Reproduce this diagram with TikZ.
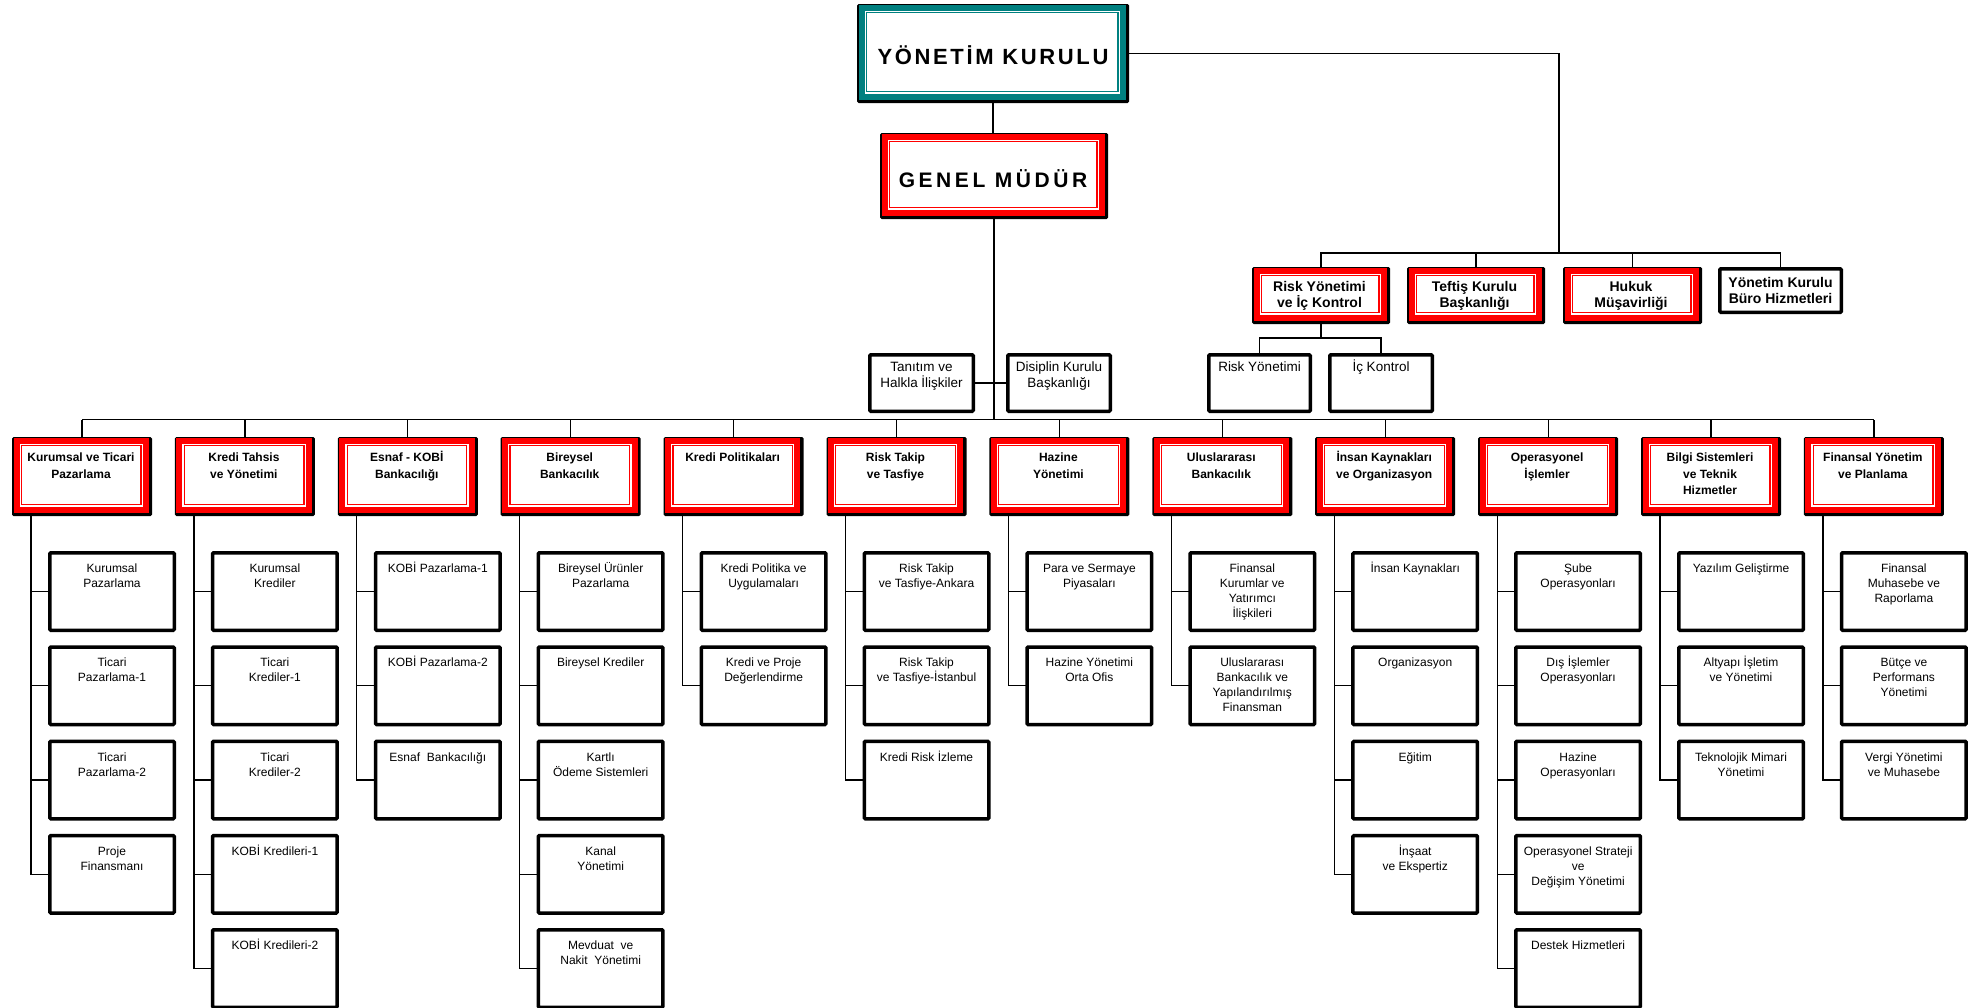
\documentclass[tikz,border=0pt]{standalone}
\usepackage{fontspec}
\setmainfont{Liberation Sans}
\newfontfamily\ykfont[LetterSpace=12]{Liberation Sans}
\newfontfamily\gmfont[LetterSpace=17]{Liberation Sans}
\usetikzlibrary{calc}
\definecolor{tealc}{RGB}{0,128,128}
\definecolor{redc}{RGB}{255,0,0}
\newcommand{\fl}{\rule{0pt}{14pt}}
\tikzset{
  geo/.style={inner sep=0pt, outer sep=0pt, draw=none},
  sbox/.style={draw=black, line width=3.5pt, fill=white, inner sep=0pt, outer sep=0pt, rounded corners=1pt},
  conn/.style={draw=black, line width=1.2pt},
  thickconn/.style={draw=black, line width=1.8pt},
  stext/.style={inner sep=0pt, align=center, font=\fontsize{12}{15}\selectfont, anchor=north},
  ttext/.style={inner sep=0pt, align=center, font=\fontsize{13.5}{16}\selectfont, anchor=north},
  dtext/.style={inner sep=0pt, align=center, font=\fontsize{12}{16.5}\selectfont\bfseries, anchor=north},
  rtext/.style={inner sep=0pt, align=center, font=\fontsize{14}{16}\selectfont\bfseries, anchor=north},
}
\newcommand{\FancyFrame}[2]{%
  \fill[black, rounded corners=1.5pt] (#1.north west) rectangle (#1.south east);
  \fill[#2] ($(#1.north west)+(1.5,1.2)$) rectangle ($(#1.south east)+(-3.2,-3.5)$);
  \fill[white] ($(#1.north west)+(7.5,7)$) rectangle ($(#1.south east)+(-9.2,-9.5)$);
  \draw[#2, line width=1.2pt] ($(#1.north west)+(9.3,8.8)$) rectangle ($(#1.south east)+(-11,-11.3)$);
}
\newcommand{\Dept}[3]{%
  \node[geo, minimum width=140pt, minimum height=79pt, anchor=north] (#1) at (#2,437) {};
  \FancyFrame{#1}{redc}
  \node[dtext] (#1-t) at (#2-1,447.5) {\fl #3};
}
\newcommand{\Sub}[4]{%
  \node[sbox, minimum width=124.5pt, minimum height=77.5pt, anchor=north west] (#1) at (#2-32.25,#3+1.75) {};
  \node[stext] (#1-t) at (#2+30,#3+7.5) {\fl #4};
}
\begin{document}
\begin{tikzpicture}[x=1pt,y=-1pt]
\useasboundingbox (0,0) rectangle (1975,1007);
\fill[white] (0,0) rectangle (1975,1007);

% ---- top ----
\node[geo, minimum width=272pt, minimum height=99pt, anchor=north west] (yk) at (857,4) {};
\FancyFrame{yk}{tealc}
\node[inner sep=0pt, anchor=base, font=\ykfont\bfseries\fontsize{22}{26}\selectfont] (yk-t) at (993,64) {YÖNETİM KURULU};

\node[geo, minimum width=228pt, minimum height=86pt, anchor=north west] (gm) at (880,133) {};
\FancyFrame{gm}{redc}
\node[inner sep=0pt, anchor=base, font=\gmfont\bfseries\fontsize{21}{25}\selectfont] (gm-t) at (993,187) {GENEL MÜDÜR};

\draw[line width=2.2pt] (yk.south) -- (yk.south |- gm.north);

% right side
\coordinate (rtop) at (1559,253);
\draw[thickconn] (yk.east) -| (rtop);

\node[geo, minimum width=138pt, minimum height=57pt, anchor=north west] (rk) at (1252,267) {};
\FancyFrame{rk}{redc}
\node[rtext] (rk-t) at (1319.5,277.5) {\fl Risk Yönetimi\\ve İç Kontrol};
\node[geo, minimum width=138pt, minimum height=57pt, anchor=north west] (tf) at (1407,267) {};
\FancyFrame{tf}{redc}
\node[rtext] (tf-t) at (1474.5,277.5) {\fl Teftiş Kurulu\\Başkanlığı};
\node[geo, minimum width=139pt, minimum height=57pt, anchor=north west] (hk) at (1563,267) {};
\FancyFrame{hk}{redc}
\node[rtext] (hk-t) at (1631,277.5) {\fl Hukuk\\Müşavirliği};
\node[sbox, minimum width=121.5pt, minimum height=43.5pt, anchor=north west] (bk) at (1719.75,268.75) {};
\node[rtext] (bk-t) at (1780.5,273.5) {\fl Yönetim Kurulu\\Büro Hizmetleri};

\draw[conn] (rk.north) |- (bk.north |- rtop) -- (bk.north);
\draw[conn] (tf.north) -- (tf.north |- rtop);
\draw[conn] (hk.north) -- (hk.north |- rtop);

% risk sub boxes
\node[sbox, minimum width=101.5pt, minimum height=56.5pt, anchor=north west] (rys) at (1208.75,354.75) {};
\node[ttext] (rys-t) at (1259.5,357.5) {\fl Risk Yönetimi};
\node[sbox, minimum width=102.5pt, minimum height=56.5pt, anchor=north west] (ic) at (1329.75,354.75) {};
\node[ttext] (ic-t) at (1381,357.5) {\fl İç Kontrol};
\coordinate (rkb) at ($(rk.south)+(0,14)$);
\draw[conn] (rk.south) -- (rkb);
\draw[conn] (rys.north) |- (rkb) -| (ic.north);

% staff boxes near GM
\node[sbox, minimum width=103.5pt, minimum height=56.5pt, anchor=north west] (tan) at (869.75,354.75) {};
\node[ttext] (tan-t) at (921.5,357.5) {\fl Tanıtım ve\\Halkla İlişkiler};
\node[sbox, minimum width=102.5pt, minimum height=56.5pt, anchor=north west] (dis) at (1007.75,354.75) {};
\node[ttext] (dis-t) at (1059,357.5) {\fl Disiplin Kurulu\\Başkanlığı};

\coordinate (bus) at (993,419.5);
\draw[thickconn] (gm.south) -- (gm.south |- bus);
\draw[conn] (tan.east) -- (dis.west);

% ---- departments ----
\Dept{d1}{82}{Kurumsal ve Ticari\\Pazarlama}
\Dept{d2}{244.9}{Kredi Tahsis\\ve Yönetimi}
\Dept{d3}{407.8}{Esnaf - KOBİ\\Bankacılığı}
\Dept{d4}{570.7}{Bireysel\\Bankacılık}
\Dept{d5}{733.6}{Kredi Politikaları}
\Dept{d6}{896.5}{Risk Takip\\ve Tasfiye}
\Dept{d7}{1059.4}{Hazine\\Yönetimi}
\Dept{d8}{1222.3}{Uluslararası\\Bankacılık}
\Dept{d9}{1385.2}{İnsan Kaynakları\\ve Organizasyon}
\Dept{d10}{1548.1}{Operasyonel\\İşlemler}
\Dept{d11}{1711}{Bilgi Sistemleri\\ve Teknik\\Hizmetler}
\Dept{d12}{1873.9}{Finansal Yönetim\\ve Planlama}

\draw[conn] (d1.north |- bus) -- (d12.north |- bus);
\foreach \k in {1,...,12} \draw[conn] (d\k.north) -- (d\k.north |- bus);

% ---- sub units ----
\Sub{s1-1}{82}{551}{Kurumsal\\Pazarlama}
\Sub{s1-2}{82}{645.25}{Ticari\\Pazarlama-1}
\Sub{s1-3}{82}{739.5}{Ticari\\Pazarlama-2}
\Sub{s1-4}{82}{833.75}{Proje\\Finansmanı}

\Sub{s2-1}{244.9}{551}{Kurumsal\\Krediler}
\Sub{s2-2}{244.9}{645.25}{Ticari\\Krediler-1}
\Sub{s2-3}{244.9}{739.5}{Ticari\\Krediler-2}
\Sub{s2-4}{244.9}{833.75}{KOBİ Kredileri-1}
\Sub{s2-5}{244.9}{928}{KOBİ Kredileri-2}

\Sub{s3-1}{407.8}{551}{KOBİ Pazarlama-1}
\Sub{s3-2}{407.8}{645.25}{KOBİ Pazarlama-2}
\Sub{s3-3}{407.8}{739.5}{Esnaf~ Bankacılığı}

\Sub{s4-1}{570.7}{551}{Bireysel Ürünler\\Pazarlama}
\Sub{s4-2}{570.7}{645.25}{Bireysel Krediler}
\Sub{s4-3}{570.7}{739.5}{Kartlı\\Ödeme Sistemleri}
\Sub{s4-4}{570.7}{833.75}{Kanal\\Yönetimi}
\Sub{s4-5}{570.7}{928}{Mevduat~ ve\\Nakit~ Yönetimi}

\Sub{s5-1}{733.6}{551}{Kredi Politika ve\\Uygulamaları}
\Sub{s5-2}{733.6}{645.25}{Kredi ve Proje\\Değerlendirme}

\Sub{s6-1}{896.5}{551}{Risk Takip\\ve Tasfiye-Ankara}
\Sub{s6-2}{896.5}{645.25}{Risk Takip\\ve Tasfiye-İstanbul}
\Sub{s6-3}{896.5}{739.5}{Kredi Risk İzleme}

\Sub{s7-1}{1059.4}{551}{Para ve Sermaye\\Piyasaları}
\Sub{s7-2}{1059.4}{645.25}{Hazine Yönetimi\\Orta Ofis}

\Sub{s8-1}{1222.3}{551}{Finansal\\Kurumlar ve\\Yatırımcı\\İlişkileri}
\Sub{s8-2}{1222.3}{645.25}{Uluslararası\\Bankacılık ve\\Yapılandırılmış\\Finansman}

\Sub{s9-1}{1385.2}{551}{İnsan Kaynakları}
\Sub{s9-2}{1385.2}{645.25}{Organizasyon}
\Sub{s9-3}{1385.2}{739.5}{Eğitim}
\Sub{s9-4}{1385.2}{833.75}{İnşaat\\ve Ekspertiz}

\Sub{s10-1}{1548.1}{551}{Şube\\Operasyonları}
\Sub{s10-2}{1548.1}{645.25}{Dış İşlemler\\Operasyonları}
\Sub{s10-3}{1548.1}{739.5}{Hazine\\Operasyonları}
\Sub{s10-4}{1548.1}{833.75}{Operasyonel Strateji\\ve\\Değişim Yönetimi}
\Sub{s10-5}{1548.1}{928}{Destek Hizmetleri}

\Sub{s11-1}{1711}{551}{Yazılım Geliştirme}
\Sub{s11-2}{1711}{645.25}{Altyapı İşletim\\ve Yönetimi}
\Sub{s11-3}{1711}{739.5}{Teknolojik Mimari\\Yönetimi}

\Sub{s12-1}{1873.9}{551}{Finansal\\Muhasebe ve\\Raporlama}
\Sub{s12-2}{1873.9}{645.25}{Bütçe ve\\Performans\\Yönetimi}
\Sub{s12-3}{1873.9}{739.5}{Vergi Yönetimi\\ve Muhasebe}

% rails
\foreach \k/\n in {1/4,2/5,3/3,4/5,5/2,6/3,7/2,8/2,9/4,10/5,11/3,12/3}{
  \draw[conn] ($(d\k.south west)+(19,0)$) coordinate (r\k) |- (s\k-\n.west);
  \foreach \i in {1,...,\n}{ \draw[conn] (s\k-\i.west) -- (s\k-\i.west -| r\k); }
}
\end{tikzpicture}
\end{document}
